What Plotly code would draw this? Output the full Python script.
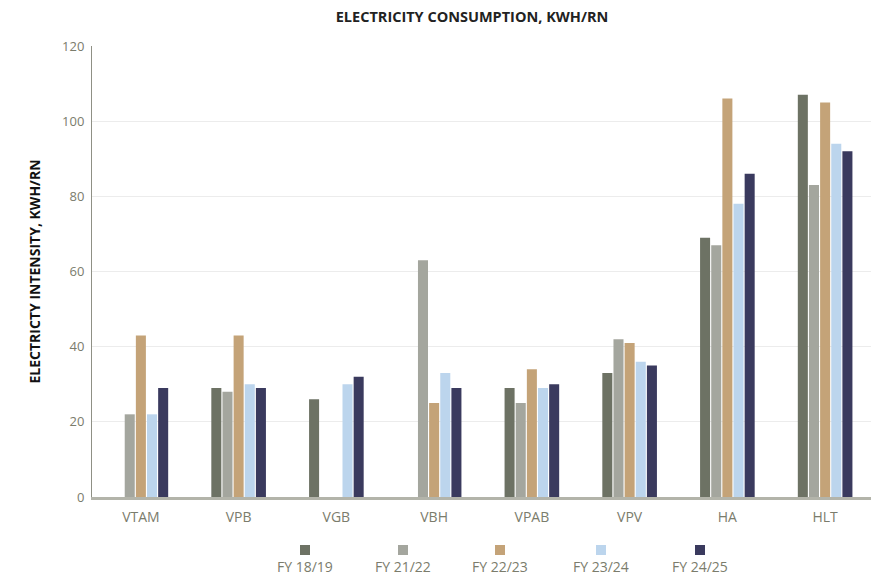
import plotly.graph_objects as go

categories = ["VTAM", "VPB", "VGB", "VBH", "VPAB", "VPV", "HA", "HLT"]
series_names = ["FY 18/19", "FY 21/22", "FY 22/23", "FY 23/24", "FY 24/25"]
fy_18_19 = [None, 29, 26, None, 29, 33, 69, 107]
fy_21_22 = [22, 28, None, 63, 25, 42, 67, 83]
fy_22_23 = [43, 43, None, 25, 34, 41, 106, 105]
fy_23_24 = [22, 30, 30, 33, 29, 36, 78, 94]
fy_24_25 = [29, 29, 32, 29, 30, 35, 86, 92]
series_values = [fy_18_19, fy_21_22, fy_22_23, fy_23_24, fy_24_25]
colors = ["#6d7264", "#a4a69e", "#c4a378", "#bcd5ed", "#3a3a5e"]
y_ticks = [0, 20, 40, 60, 80, 100, 120]

FONT = "'Open Sans', Lato, sans-serif"
GRAY = "#7b7c6c"

# page body has an 8px margin: figure coordinates are page coordinates minus 8
OFF = 8
W, H = 879 - OFF, 576 - OFF
L, T = 92 - OFF, 46 - OFF
R = W - (874 - OFF)
B = H - (497 - OFF)
pw, ph = W - L - R, H - T - B

fig = go.Figure()
for name, vals, col in zip(series_names, series_values, colors):
    fig.add_trace(go.Bar(x=categories, y=vals, name=name, marker_color=col,
                         marker_line_width=0, showlegend=False))

# custom legend: square above label
legend_px = [305, 403, 500, 601, 700]
for name, col, px in zip(series_names, colors, legend_px):
    xc = (px - OFF - L) / pw
    ys = ((497 - OFF) - (550 - OFF)) / ph
    dx, dy = 5 / pw, 5 / ph
    fig.add_shape(type="rect", xref="paper", yref="paper",
                  x0=xc - dx, x1=xc + dx, y0=ys - dy, y1=ys + dy,
                  fillcolor=col, line_width=0)
    fig.add_annotation(text=name, xref="paper", yref="paper", x=xc,
                       y=((497 - OFF) - (566 - OFF)) / ph, showarrow=False,
                       font=dict(size=14, color=GRAY, family=FONT),
                       xanchor="center", yanchor="middle")

fig.update_layout(
    width=W, height=H,
    margin=dict(l=L, r=R, t=T, b=B, autoexpand=False),
    paper_bgcolor="white", plot_bgcolor="white",
    barmode="group", bargap=0.43, bargroupgap=0.1,
    title=dict(text="<b>ELECTRICITY CONSUMPTION, KWH/RN</b>", x=(472 - OFF) / W, xanchor="center",
               y=1 - (17 - OFF) / H, yanchor="middle",
               font=dict(size=14.5, color="#222222", family=FONT)),
    font=dict(family=FONT),
)
fig.update_yaxes(range=[0, 120], tickvals=y_ticks, showgrid=True, gridcolor="#ececec",
                 gridwidth=1, showline=True, linecolor="#8f9085", linewidth=1,
                 zeroline=False, ticks="", ticklabelstandoff=4,
                 tickfont=dict(size=13, color=GRAY, family=FONT),
                 title=dict(text="<b>ELECTRICTY INTENSITY, KWH/RN</b>",
                            font=dict(size=14, color="#111111", family=FONT), standoff=18))
fig.update_xaxes(showline=True, linecolor="#b3b4aa", linewidth=2.5, ticks="",
                 ticklabelstandoff=5,
                 tickfont=dict(size=14, color=GRAY, family=FONT))

fig.write_html("out.html")
